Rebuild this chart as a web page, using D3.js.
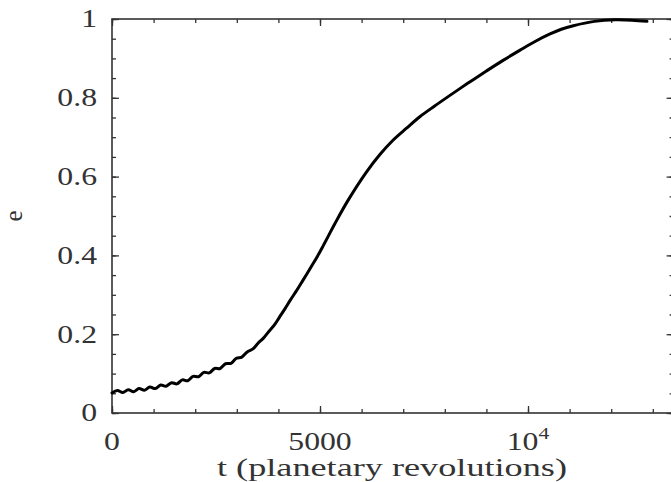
<!DOCTYPE html>
<html>
<head>
<meta charset="utf-8">
<script src="https://cdn.jsdelivr.net/npm/d3@7"></script>
<style>
  html, body { margin: 0; padding: 0; background: #fff; }
  svg { display: block; }
  text { font-family: "Liberation Serif", "Times New Roman", serif; fill: #333; }
</style>
</head>
<body>
<script>
// Eccentricity growth versus time (planetary revolutions)
const time = [
  0, 130, 260, 390, 520, 650, 780, 910, 1040, 1170,
  1300, 1430, 1560, 1690, 1820, 1950, 2080, 2210, 2340, 2470,
  2600, 2730, 2860, 2990, 3120, 3250, 3380, 3510, 3640, 3770,
  3900, 4030, 4160, 4290, 4420, 4550, 4680, 4810, 4940, 5070,
  5200, 5360, 5670, 6120, 6440, 6760, 7080, 7400, 7740, 8080,
  8540, 9000, 9400, 9810, 10170, 10530, 10800, 11090, 11600, 12100, 12500, 12860
];
const ecc = [
  0.051, 0.057, 0.052, 0.059, 0.054, 0.062, 0.058, 0.066, 0.062, 0.071,
  0.068, 0.077, 0.074, 0.084, 0.082, 0.093, 0.092, 0.103, 0.102, 0.113,
  0.113, 0.125, 0.126, 0.139, 0.142, 0.155, 0.162, 0.177, 0.190, 0.207,
  0.223, 0.244, 0.265, 0.287, 0.308, 0.330, 0.352, 0.375, 0.398, 0.423,
  0.449, 0.481, 0.539, 0.612, 0.656, 0.693, 0.723, 0.752, 0.778, 0.803,
  0.836, 0.868, 0.895, 0.921, 0.943, 0.962, 0.974, 0.983, 0.994, 0.998, 0.997, 0.994
];

const xMajor = [0, 5000, 10000];
const xMinor = d3.range(0, 13001, 1000);
const yMajor = [0, 0.2, 0.4, 0.6, 0.8, 1];
const yMinor = d3.range(0, 1.0001, 0.05);
const yTickLabels = ["0", "0.2", "0.4", "0.6", "0.8", "1"];

const W = 671, H = 482;
const svg = d3.select("body").append("svg").attr("width", W).attr("height", H);

const x = d3.scaleLinear().domain([0, 13500]).range([112, 673.6]);
const y = d3.scaleLinear().domain([0, 1]).range([413, 19]);

const axisColor = "#333";
const frame = svg.append("g");

function drawAxis(axis, transform) {
  const g = frame.append("g").attr("transform", transform).call(axis);
  g.select(".domain").remove();
  g.selectAll("text").remove();
  g.selectAll("line").attr("stroke", axisColor).attr("stroke-width", 1.3);
}

// inward ticks on all four sides
drawAxis(d3.axisBottom(x).tickValues(xMinor).tickSize(-4), `translate(0,${y(0)})`);
drawAxis(d3.axisBottom(x).tickValues(xMajor).tickSize(-7), `translate(0,${y(0)})`);
drawAxis(d3.axisTop(x).tickValues(xMinor).tickSize(-4), `translate(0,${y(1)})`);
drawAxis(d3.axisTop(x).tickValues(xMajor).tickSize(-7), `translate(0,${y(1)})`);
drawAxis(d3.axisLeft(y).tickValues(yMinor).tickSize(-4), `translate(${x(0)},0)`);
drawAxis(d3.axisLeft(y).tickValues(yMajor).tickSize(-7), `translate(${x(0)},0)`);
drawAxis(d3.axisRight(y).tickValues(yMinor).tickSize(-4), `translate(${x(13500)},0)`);
drawAxis(d3.axisRight(y).tickValues(yMajor).tickSize(-7), `translate(${x(13500)},0)`);

frame.append("rect")
  .attr("x", x(0)).attr("y", y(1))
  .attr("width", x(13500) - x(0)).attr("height", y(0) - y(1))
  .attr("fill", "none").attr("stroke", axisColor).attr("stroke-width", 1.6);

// curve
const pts = time.map((t, i) => [t, ecc[i]]);
svg.append("path")
  .datum(pts)
  .attr("fill", "none")
  .attr("stroke", "#000")
  .attr("stroke-width", 3)
  .attr("stroke-linejoin", "round")
  .attr("stroke-linecap", "round")
  .attr("d", d3.line().x(d => x(d[0])).y(d => y(d[1])).curve(d3.curveCatmullRom));

// tick labels
const fs = 25, sx = 1.27;
svg.append("g").selectAll("text")
  .data(yMajor)
  .join("text")
  .attr("transform", d => `translate(97,${y(d) + 8.3}) scale(${sx},1)`)
  .attr("text-anchor", "end")
  .attr("font-size", fs)
  .text((d, i) => yTickLabels[i]);

const xl = svg.append("g");
xl.append("text")
  .attr("transform", `translate(${x(0)},449.5) scale(${sx},1)`)
  .attr("text-anchor", "middle").attr("font-size", fs).text("0");
xl.append("text")
  .attr("transform", `translate(${x(5000)},449.5) scale(${sx},1)`)
  .attr("text-anchor", "middle").attr("font-size", fs).text("5000");
const t4 = xl.append("text")
  .attr("transform", `translate(${x(10000)},449.5) scale(${sx},1)`)
  .attr("text-anchor", "middle").attr("font-size", fs);
t4.append("tspan").text("10");
t4.append("tspan").attr("font-size", 17).attr("dy", -11).text("4");

// axis titles
svg.append("text")
  .attr("x", 217).attr("y", 476)
  .attr("font-size", fs)
  .attr("textLength", 350)
  .attr("lengthAdjust", "spacingAndGlyphs")
  .text("t (planetary revolutions)");

svg.append("text")
  .attr("transform", "translate(22,216) rotate(-90)")
  .attr("text-anchor", "middle")
  .attr("font-size", fs)
  .text("e");
</script>
</body>
</html>
